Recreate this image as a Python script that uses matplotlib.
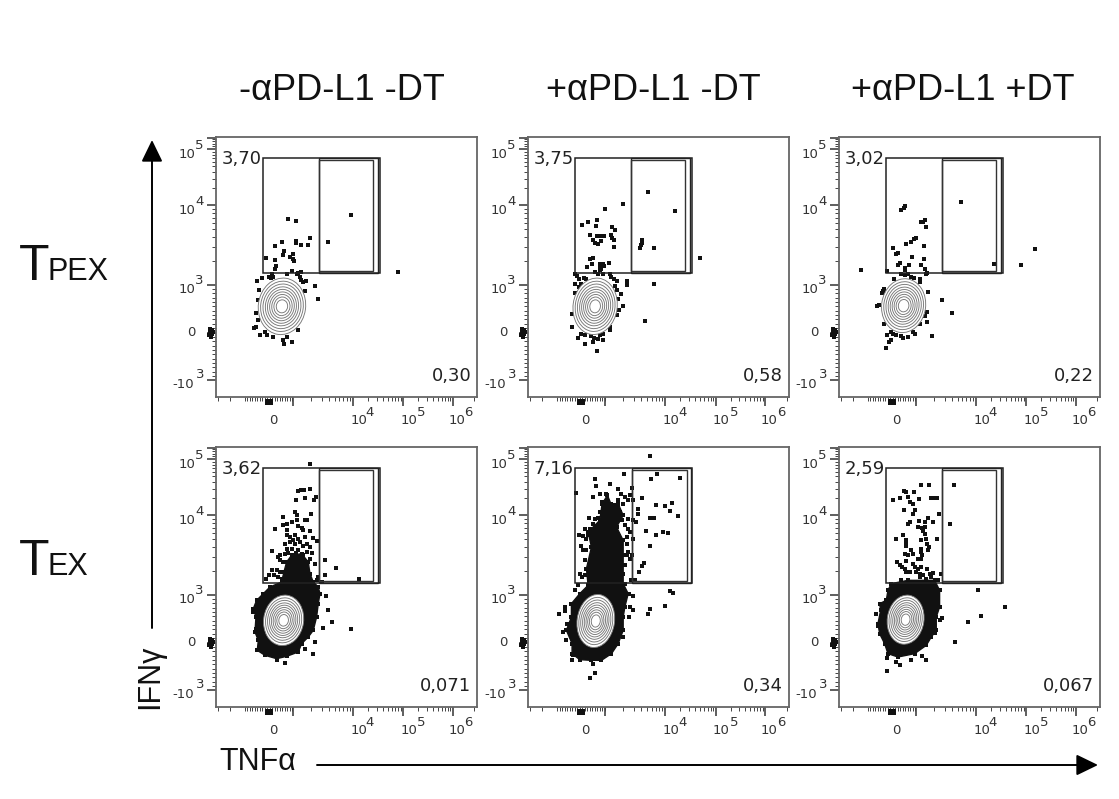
import numpy as np
import matplotlib
matplotlib.use("Agg")
import matplotlib.pyplot as plt
from matplotlib.patches import Ellipse, Polygon, Rectangle

W, H = 1119, 799

TITLES = ["-\u03b1PD-L1 -DT", "+\u03b1PD-L1 -DT", "+\u03b1PD-L1 +DT"]
Q_TOPLEFT = [["3,70", "3,75", "3,02"], ["3,62", "7,16", "2,59"]]
Q_BOTRIGHT = [["0,30", "0,58", "0,22"], ["0,071", "0,34", "0,067"]]

# Events, in the channel units of each plot
P11 = [(353,267),(378,273),(543,255),(475,334),(420,322),(335,335),(378,332),(378,338),(393,343),(414,343),(316,346),(341,362),(338,375),(368,371),(288,382),(316,389),(360,381),(371,392),(368,385),(319,407),(314,416),(366,423),(350,430),(392,425),(380,432),(385,427),(306,432),(296,441),(276,444),(262,452),(303,442),(310,441),(390,440),(392,448),(398,456),(408,453),(435,468),(404,483),(444,505),(267,478),(264,508),(258,547),(264,570),(252,594),(258,591),(383,600),(270,615),(285,605),(292,615),(310,621),(350,621),(338,628),(341,640),(365,636),(684,426)]
P12 = [(488,184),(570,242),(414,221),(360,236),(338,269),(310,275),(292,285),(335,288),(382,291),(390,299),(316,315),(338,316),(347,316),(357,316),(380,315),(382,322),(388,328),(325,328),(330,338),(350,333),(340,340),(388,350),(470,330),(470,338),(467,345),(466,352),(506,352),(644,383),(316,385),(325,382),(307,410),(322,402),(345,400),(355,400),(374,397),(345,408),(357,408),(350,415),(345,420),(330,425),(340,432),(355,432),(272,431),(278,436),(283,445),(298,442),(305,447),(375,432),(380,440),(387,445),(395,452),(270,460),(288,460),(282,470),(272,488),(390,468),(395,478),(409,490),(400,505),(414,527),(402,538),(396,553),(261,550),(261,590),(377,590),(377,600),(290,612),(280,623),(300,615),(320,618),(328,622),(345,615),(355,610),(340,625),(355,628),(300,642),(326,636),(338,661),(479,572),(506,462),(427,452),(427,463)]
P13 = [(500,214),(332,227),(327,233),(320,239),(392,270),(378,275),(385,275),(393,290),(365,322),(358,325),(350,336),(335,342),(387,346),(295,352),(310,368),(303,370),(353,380),(387,385),(315,397),(310,405),(342,405),(378,405),(332,412),(390,417),(398,427),(393,432),(278,423),(198,420),(332,420),(320,432),(332,435),(340,432),(350,440),(358,443),(375,445),(375,455),(297,447),(268,475),(265,482),(262,488),(399,484),(442,508),(473,548),(252,525),(248,527),(396,545),(390,558),(268,581),(375,581),(396,575),(411,618),(355,605),(360,610),(290,605),(278,615),(295,612),(305,615),(320,618),(325,622),(340,620),(290,630),(282,635),(274,652),(598,402),(678,405),(720,355)]
P21 = [(420,70),(384,152),(392,148),(403,148),(420,147),(405,172),(378,178),(438,170),(432,178),(375,215),(380,225),(340,230),(424,222),(405,240),(410,240),(365,245),(380,240),(350,250),(340,255),(316,266),(385,258),(395,262),(352,268),(420,272),(400,268),(350,285),(360,290),(375,285),(385,295),(405,290),(430,292),(440,302),(345,310),(360,305),(375,310),(390,305),(410,310),(420,320),(350,325),(365,325),(385,330),(425,338),(306,331),(330,345),(345,340),(370,345),(385,350),(400,345),(420,355),(466,358),(435,372),(497,382),(330,360),(325,350),(338,365),(306,390),(320,390),(330,395),(296,405),(288,416),(312,405),(325,410),(335,415),(466,405),(445,410),(440,420),(455,425),(568,416),(468,468),(475,510),(487,545),(543,566),(458,563),(435,605),(430,642),(405,625),(345,667),(322,658),(300,640),(260,630),(255,505),(250,515),(258,565),(370,300),(398,318),(355,338),(378,338),(410,335)]
P22 = [(494,46),(417,101),(516,101),(332,117),(497,117),(586,113),(375,131),(335,138),(274,158),(399,146),(442,144),(326,169),(347,162),(365,160),(408,160),(436,163),(420,170),(430,178),(445,180),(472,172),(352,185),(400,180),(413,190),(513,193),(540,196),(561,187),(458,205),(555,211),(458,220),(430,235),(445,238),(452,245),(495,233),(507,233),(579,227),(313,233),(330,235),(300,265),(315,265),(430,265),(435,275),(482,272),(534,276),(549,279),(513,285),(445,296),(283,283),(295,287),(305,295),(290,318),(295,330),(494,316),(430,335),(440,345),(425,345),(436,355),(477,367),(472,378),(463,395),(285,400),(293,410),(450,420),(420,430),(437,420),(280,435),(270,450),(556,452),(564,458),(540,498),(494,507),(490,520),(432,460),(445,468),(435,500),(445,510),(433,530),(222,520),(240,500),(240,512),(248,550),(235,575),(245,598),(262,660),(325,670),(332,697),(317,713),(265,645),(350,660),(415,590),(410,570),(355,205),(345,215),(382,205),(405,215),(325,250),(340,232),(410,240),(420,255),(310,285),(425,290),(425,310),(305,330),(300,360),(420,375),(300,405)]
P23 = [(378,135),(402,135),(479,135),(328,152),(335,155),(357,156),(340,170),(295,180),(317,173),(372,175),(408,173),(420,172),(426,174),(345,185),(355,192),(328,208),(360,210),(355,222),(433,220),(399,234),(372,242),(390,245),(414,245),(345,245),(340,252),(466,251),(370,260),(382,262),(392,260),(385,272),(392,280),(325,285),(305,297),(335,300),(333,310),(380,298),(395,295),(427,297),(398,310),(403,320),(335,318),(400,330),(350,330),(380,325),(378,335),(330,342),(340,345),(355,340),(383,345),(370,355),(380,355),(306,365),(333,362),(315,375),(322,380),(330,385),(335,395),(355,370),(360,380),(370,385),(380,380),(365,395),(375,400),(385,405),(398,385),(405,400),(415,398),(410,410),(345,395),(438,402),(320,420),(375,410),(395,415),(430,420),(549,450),(632,499),(558,527),(521,545),(442,533),(436,538),(482,606),(243,520),(250,558),(420,578),(277,652),(350,660),(382,648),(393,660),(305,665),(317,673),(277,691),(255,490)]
EVENTS = [[P11, P12, P13], [P21, P22, P23]]

# Outlines of the saturated event clouds
B21 = [(350,365),(365,345),(395,340),(415,365),(420,400),(430,425),(445,440),(450,460),(445,490),(440,530),(430,570),(415,590),(395,610),(385,635),(350,648),(320,655),(285,645),(262,630),(265,600),(255,575),(258,530),(250,505),(260,480),(280,460),(300,440),(335,425),(342,395)]
B22 = [(352,190),(368,165),(378,190),(400,190),(415,225),(395,260),(415,300),(415,345),(415,400),(415,430),(430,460),(420,500),(415,530),(415,570),(400,610),(380,640),(350,660),(320,660),(285,658),(262,640),(262,610),(245,570),(260,530),(260,490),(285,460),(310,435),(305,385),(320,320),(310,275),(345,240)]
B23 = [(290,430),(340,420),(420,420),(435,450),(435,500),(425,530),(425,570),(410,590),(395,615),(360,640),(310,650),(280,640),(270,610),(255,580),(250,550),(258,510),(255,490),(275,480),(280,450)]
BLOBS = [[None, None, None], [B21, B22, B23]]

# Density contours: centre x, centre y, half width, half height of outer ring
CONTOUR = [[(336,528,71,85), (331,528,66,85), (327,526,66,81)],
           [(341,540,60,76), (333,542,56,80), (333,538,55,74)]]
RING_W = [1.0, 0.90, 0.80, 0.70, 0.61, 0.52, 0.43, 0.34, 0.24]
RING_H = [1.0, 0.89, 0.79, 0.69, 0.60, 0.51, 0.42, 0.33, 0.23]

# Plot frames and gates in channel units
FRAME_X = [(138, 920), (130, 910), (133, 915)]
FRAME_Y = (800, 20)
GATE_OUT = [[(279,630), (270,621), (274,625)], [(279,630), (270,622), (274,625)]]
GATE_IN = [[(447,610), (437,601), (441,605)], [(447,610), (441,605), (441,605)]]

# Tick positions, relative to the frame's left edge (x) or in channels (y)
X_DECADES = [232, 410, 562, 710]
X_EXTRA = [7, 42, 775]
Y_DECADES = [463, 225, 57]
Y_LIN = [476, 489, 502, 515, 528, 541, 554, 567, 580, 593, 620, 633, 646, 659, 672, 685, 698, 711, 724, 737]
Y_MAJOR = [748, 607, 463, 225, 57, 22]
AXIS_PILE = [(-18,595),(-11,600),(-18,607),(-11,612),(-14,620),(-8,605),(-20,614)]
BASE_PILE = [(154,812),(160,812),(166,812),(154,818),(160,818),(166,818)]

fig = plt.figure(figsize=(W/100, H/100), dpi=100, facecolor="white")
INK = "#333333"
LEFT_PX = [216, 528, 839]
TOP_PX = [137, 447]
PANEL_W = 260.5
PANEL_H = 260
MS = 10

for r in range(2):
    for c in range(3):
        ax = fig.add_axes([LEFT_PX[c]/W, 1-(TOP_PX[r]+PANEL_H)/H, PANEL_W/W, PANEL_H/H])
        x0, x1 = FRAME_X[c]
        ax.set_xlim(x0, x1)
        ax.set_ylim(*FRAME_Y)
        for s in ax.spines.values():
            s.set_color("#666666"); s.set_linewidth(1.3)

        xmaj = [x0 + v for v in X_DECADES[1:]] + [x0 + X_DECADES[0]]
        xmin = [x0 + v for v in np.arange(87, 232, 7.5)] + [x0 + v for v in X_EXTRA]
        for a, b in zip(X_DECADES[:-1], X_DECADES[1:]):
            xmin += [x0 + a + (b-a)*np.log10(k) for k in range(2, 10)]
        ymin = list(Y_LIN)
        for a, b in zip(Y_DECADES[:-1], Y_DECADES[1:]):
            ymin += [a + (b-a)*np.log10(k) for k in range(2, 10)]
        ymin += [48, 40, 33, 27]
        ax.set_xticks(xmaj); ax.set_xticks(xmin, minor=True)
        ax.set_yticks(Y_MAJOR); ax.set_yticks(ymin, minor=True)
        ax.tick_params(axis="both", which="major", length=6.5, width=1.1, color="#333333", labelbottom=False, labelleft=False)
        ax.tick_params(axis="both", which="minor", length=3, width=0.7, color="#444444")

        blob = BLOBS[r][c]
        if blob is not None:
            ax.add_patch(Polygon(blob, closed=True, fc="#111111", ec="#111111", zorder=2))
            bx, by = zip(*blob)
            ax.scatter(bx, by, marker="s", s=MS, c="#111111", linewidths=0, zorder=2)
        ex, ey = zip(*EVENTS[r][c])
        ax.scatter(ex, ey, marker="s", s=MS, c="#111111", linewidths=0, zorder=3)

        cx, cy, rw, rh = CONTOUR[r][c]
        ax.add_patch(Ellipse((cx, cy), 2*rw, 2*rh, angle=8, fc="white", ec="none", zorder=4))
        for fw, fh in zip(RING_W, RING_H):
            ax.add_patch(Ellipse((cx, cy), 2*rw*fw, 2*rh*fh, angle=8, fc="none", ec="#777777", lw=0.65, zorder=5))

        gx0, gx1 = GATE_OUT[r][c]
        ix0, ix1 = GATE_IN[r][c]
        ax.add_patch(Rectangle((gx0, 82), gx1-gx0, 345, fc="none", ec="#222222", lw=1.1, zorder=6))
        ax.add_patch(Rectangle((ix0, 82), gx1-5-ix0, 345, fc="none", ec="#222222", lw=1.0, zorder=6))
        ax.add_patch(Rectangle((ix0, 88), ix1-ix0, 334, fc="none", ec="#333333", lw=1.0, zorder=6))

        px, py = zip(*AXIS_PILE)
        ax.scatter([x0+v for v in px], py, marker="s", s=MS, c="#111111", linewidths=0, clip_on=False, zorder=7)
        px, py = zip(*BASE_PILE)
        ax.scatter([x0+v for v in px], py, marker="s", s=MS, c="#111111", linewidths=0, clip_on=False, zorder=7)

        # Quadrant frequencies
        ax.text(x0+16, 87, Q_TOPLEFT[r][c], fontsize=13, color="#222222", ha="left", va="center", zorder=8)
        ax.text(x1-16, 736, Q_BOTRIGHT[r][c], fontsize=13, color="#222222", ha="right", va="center", zorder=8)

        # Tick labels
        lab = dict(fontsize=9.5, color=INK, ha="center", va="center", clip_on=False)
        ax.text(x0+172, 872, "0", **lab)
        for xc, xe, e in [(429, 462, "4"), (579, 617, "5"), (722, 757, "6")]:
            ax.text(x0+xc, 872, "10", **lab)
            ax.text(x0+xe, 846, e, **lab)
        ax.text(x0-73, 607, "0", **lab)
        for yc, ye, e in [(478, 452, "3"), (240, 214, "4"), (72, 46, "5")]:
            ax.text(x0-86, yc, "10", **lab)
            ax.text(x0-50, ye, e, **lab)
        ax.text(x0-99, 762, "-10", **lab)
        ax.text(x0-48, 734, "3", **lab)

def ftext(x, y, s, **kw):
    fig.text(x/W, 1-y/H, s, family="Liberation Sans", color="#111111", **kw)

for cx, t in zip([342, 653, 963], TITLES):
    ftext(cx, 91, t, fontsize=26, ha="center", va="center")
ftext(19, 267, "T", fontsize=36, ha="left", va="center")
ftext(47, 272, "PEX", fontsize=22, ha="left", va="center")
ftext(19, 562, "T", fontsize=36, ha="left", va="center")
ftext(47, 567, "EX", fontsize=22, ha="left", va="center")
ftext(150, 677, "IFN\u03b3", fontsize=22, rotation=90, ha="center", va="center")
ftext(258, 762, "TNF\u03b1", fontsize=22, ha="center", va="center")

def arrow(x0, y0, x1, y1):
    fig.add_artist(matplotlib.patches.FancyArrowPatch(
        (x0/W, 1-y0/H), (x1/W, 1-y1/H), transform=fig.transFigure,
        arrowstyle="-|>,head_length=7,head_width=3.4", mutation_scale=1.9,
        lw=1.4, color="black", shrinkA=0, shrinkB=0))
arrow(152, 628, 152, 140)
arrow(317, 765, 1098, 765)

fig.savefig("out.png", dpi=100, facecolor="white")
